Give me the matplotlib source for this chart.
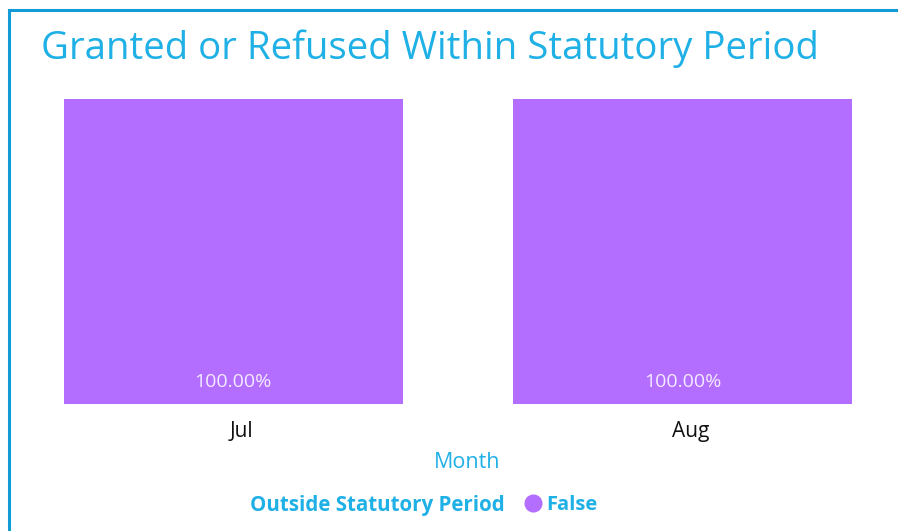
import matplotlib
matplotlib.use("Agg")
import matplotlib.pyplot as plt
from matplotlib.lines import Line2D
from matplotlib.transforms import ScaledTranslation

months = ["Jul", "Aug"]
false_share = [100.0, 100.0]
title_text = "Granted or Refused Within Statutory Period"
legend_title = "Outside Statutory Period"
legend_label = "False"
x_label = "Month"

BAR = "#B36EFF"
BLUE = "#1FB0E6"
BORDER = "#129BD6"

plt.rcParams['font.family'] = ['Open Sans', 'DejaVu Sans']

W, H = 898, 531
fig = plt.figure(figsize=(W / 100, H / 100), dpi=100)
fig.patch.set_facecolor("white")

w = 0.754
ax = fig.add_axes([64 / W, 1 - 404 / H, (852 - 64) / W, (404 - 99) / H])
xs = list(range(len(months)))
bars = ax.bar(xs, false_share, width=w, color=BAR)
ax.set_xlim(-w / 2, len(months) - 1 + w / 2)
ax.set_ylim(0, 100)
for b, v in zip(bars, false_share):
    ax.text(b.get_x() + b.get_width() / 2, 7.2, f"{v:.2f}%", ha="center", va="center",
            color="#F4EAFF", fontsize=14)
ax.set_xticks(xs)
ax.set_xticklabels(months, fontsize=15, color="#111111")
ax.tick_params(axis="x", length=0, pad=12)
offset = ScaledTranslation(8.5 / 100, 0, fig.dpi_scale_trans)
for lbl in ax.get_xticklabels():
    lbl.set_transform(lbl.get_transform() + offset)
ax.set_yticks([])
for s in ax.spines.values():
    s.set_visible(False)

fig.text(41 / W, 1 - 59 / H, title_text, color=BLUE, fontsize=27.6, ha="left", va="baseline")
fig.text(467 / W, 1 - 462 / H, x_label, color=BLUE, fontsize=15.5, ha="center", va="center")

# legend
fig.text(505 / W, 1 - 505 / H, legend_title, color=BLUE, fontsize=14.8, fontweight="bold",
         ha="right", va="center")
fig.add_artist(Line2D([533 / W], [1 - 503 / H], marker="o", markersize=12, color=BAR,
                      transform=fig.transFigure, linestyle="none"))
fig.text(546 / W, 1 - 505 / H, legend_label, color=BLUE, fontsize=14.5, fontweight="bold",
         ha="left", va="center")

# border
fig.add_artist(Line2D([9 / W, 1], [1 - 10 / H, 1 - 10 / H], color=BORDER, linewidth=2.2,
                      transform=fig.transFigure))
fig.add_artist(Line2D([9 / W, 9 / W], [1 - 10 / H, 0], color=BORDER, linewidth=2.2,
                      transform=fig.transFigure))

fig.savefig("out.png", dpi=100)
